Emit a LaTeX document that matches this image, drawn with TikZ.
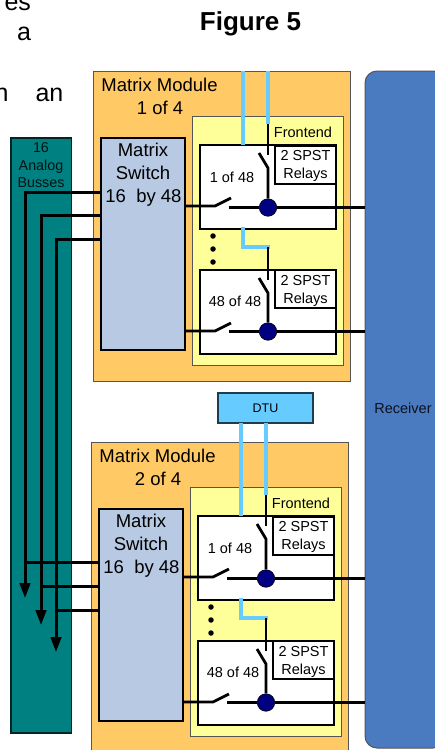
\documentclass[tikz,border=0pt]{standalone}
\usepackage{fontspec}
\setmainfont{Liberation Sans}
\usetikzlibrary{arrows.meta}
\definecolor{orangefill}{HTML}{FFC966}
\definecolor{yellowfill}{HTML}{FFFF99}
\definecolor{switchfill}{HTML}{B8C9E3}
\definecolor{tealfill}{HTML}{008080}
\definecolor{recvfill}{HTML}{4A7ABF}
\definecolor{skyline}{HTML}{66CCFF}
\definecolor{junctionfill}{HTML}{000080}
\definecolor{edgegrey}{HTML}{555555}
\newcommand{\fsz}[1]{\fontsize{#1}{#1}\selectfont}
\tikzset{
  x=1pt,y=-1pt,
  box/.style={rectangle,inner sep=0pt,outer sep=0pt,anchor=north west},
  modulebox/.style={box,draw=edgegrey,line width=1pt,fill=orangefill},
  frontbox/.style={box,draw=edgegrey,line width=1pt,fill=yellowfill},
  whitebox/.style={box,draw=black,line width=2pt,fill=white,minimum width=136pt,minimum height=84pt},
  relaybox/.style={box,draw=black,line width=1.8pt,fill=white,minimum width=61pt,minimum height=38pt},
  matrixbox/.style={box,draw=black,line width=2.2pt,fill=switchfill,minimum width=84pt,minimum height=212pt},
  label/.style={inner sep=0pt,outer sep=0pt,anchor=base,text=black},
  large/.style={label,font=\fsz{18.5}},
  small/.style={label,font=\fsz{14.5}},
  wire/.style={draw=black,line width=2.8pt},
  bus/.style={draw=black,line width=3pt},
  busarrow/.style={bus,-{Triangle[width=10.5pt,length=15pt]}},
  skywire/.style={draw=skyline,line width=3.6pt},
  junction/.style={circle,fill=junctionfill,draw=black,line width=0.6pt,minimum size=17.5pt,inner sep=0pt},
  dot/.style={circle,fill=black,minimum size=5.5pt,inner sep=0pt},
}
\newcommand{\matrixmodule}[4]{% prefix, shift, index text, height of orange
\begin{scope}[shift={#2}]
  \node[modulebox,minimum width=256.5pt,minimum height=#4] (#1-mod) at (93.5,71) {};
  \node[frontbox,minimum width=151pt,minimum height=249pt] (#1-front) at (192,116) {};
  \node[large] at (159.5,91) {Matrix Module};
  \node[large] at (160,114) {#3};
  \node[small] at (303,137) {Frontend};
  \node[matrixbox] (#1-ms) at (101,138) {};
  \node[large] at (143,156) {Matrix};
  \node[large] at (143,179) {Switch};
  \node[large] at (143.5,202) {16\ \ by 48};
  \node[whitebox] (#1-box1) at (200,145) {};
  \node[whitebox] (#1-box2) at (200,270) {};
  \node[relaybox] (#1-rel1) at (275,146) {};
  \node[relaybox] (#1-rel2) at (275,270) {};
  \node[small] at (305.5,160) {2 SPST};
  \node[small] at (305.5,178) {Relays};
  \node[small] at (305.5,285) {2 SPST};
  \node[small] at (305.5,303) {Relays};
  \node[small] at (232,182) {1 of 48};
  \node[small] at (235,306) {48 of 48};
  \node[dot] (#1-d1) at (213,236) {};
  \node[dot] (#1-d2) at (213,249) {};
  \node[dot] (#1-d3) at (213,262) {};
  \node[junction] (#1-j1) at (268,207.5) {};
  \node[junction] (#1-j2) at (268,331.5) {};
  % named points of the wiring
  \coordinate (#1-hs1) at (215,206);
  \coordinate (#1-he1) at (231,198);
  \coordinate (#1-hr1) at (229,207.5);
  \coordinate (#1-vb1) at (259,153);
  \coordinate (#1-vk1) at (268,168);
  \coordinate (#1-vt1) at (268,155);
  \coordinate (#1-sw1) at (268,124);
  \coordinate (#1-hs2) at (215,331);
  \coordinate (#1-he2) at (231,323);
  \coordinate (#1-hr2) at (229,331.5);
  \coordinate (#1-vb2) at (259,278);
  \coordinate (#1-vk2) at (268,293);
  \coordinate (#1-vt2) at (268,280);
  \coordinate (#1-sw2) at (268,247);
  \coordinate (#1-bl2) at (243,247);
  \coordinate (#1-bt) at (243,229);
  % wires
  \draw[skywire,line cap=rect] (#1-box1.south -| #1-bt) -- (#1-bl2) -- (#1-sw2);
  \draw[wire] (#1-sw2) -- (#1-vt2);
  \draw[wire] (#1-vb2) -- (#1-vk2) -- (#1-j2);
  \draw[wire] (#1-sw1) -- (#1-vt1);
  \draw[wire] (#1-vb1) -- (#1-vk1) -- (#1-j1);
  \draw[wire] (#1-ms.east |- #1-hs1) -- (#1-hs1) -- (#1-he1);
  \draw[wire] (#1-hr1) -- (#1-j1);
  \draw[wire] (#1-j1) -- (recv.west |- #1-j1);
  \draw[wire] (#1-ms.east |- #1-hs2) -- (#1-hs2) -- (#1-he2);
  \draw[wire] (#1-hr2) -- (#1-j2);
  \draw[wire] (#1-j2) -- (recv.west |- #1-j2);
\end{scope}}
\begin{document}
\begin{tikzpicture}
\clip (0,0) rectangle (435,750);
\node[label,anchor=base east,font=\fsz{25}] at (31,10) {es};
\node[label,anchor=base west,font=\fsz{25}] at (17,40) {a};
\node[label,anchor=base east,font=\fsz{25}] at (8.5,101.5) {n};
\node[label,anchor=base west,font=\fsz{25}] at (35.5,101.5) {an};
\node[label,font=\fsz{26}\bfseries] at (250.5,30) {Figure 5};
% teal bus block and receiver
\node[box,draw=black!70!tealfill,line width=1.8pt,fill=tealfill,minimum width=60.5pt,minimum height=595pt] (teal) at (11,138) {};
\node[label,font=\fsz{14.3},text=black!85!tealfill] at (41,152) {16};
\node[label,font=\fsz{14.3},text=black!85!tealfill] at (41,170) {Analog};
\node[label,font=\fsz{14.3},text=black!85!tealfill] at (41,187) {Busses};
\draw[fill=recvfill,draw=edgegrey,line width=1pt,rounded corners=12pt] (365,71) rectangle (445,748);
\node[box,minimum width=70pt,minimum height=677pt] (recv) at (365,71) {};
\node[small,text=black!85!recvfill] at (403,413) {Receiver};
% modules
\matrixmodule{mA}{(0,0)}{1 of 4}{310pt}
\matrixmodule{mB}{(-2,371)}{2 of 4}{330pt}
% DTU
\node[box,draw=black!70!skyline,line width=1.2pt,fill=skyline,minimum width=95pt,minimum height=30pt] (dtu) at (218,393) {};
\node[label,font=\fsz{12.5}] at (265.5,412) {DTU};
% blue feeds
\coordinate (topA) at (243,71);
\coordinate (topB) at (268,71);
\draw[skywire] (topA) -- (mA-box1.north -| topA);
\draw[skywire] (topB) -- (mA-sw1);
\draw[skywire] (dtu.south -| mB-bt) -- (mB-box1.north -| mB-bt);
\draw[skywire] (dtu.south -| mB-sw1) -- (mB-sw1);
% analog busses
\coordinate (b1) at (25,192);
\coordinate (b2) at (41,215);
\coordinate (b3) at (56,239);
\coordinate (e1) at (25,598);
\coordinate (e2) at (41,625);
\coordinate (e3) at (56,652);
\draw[busarrow] (mA-ms.west |- b1) -- (b1) -- (e1);
\draw[busarrow] (mA-ms.west |- b2) -- (b2) -- (e2);
\draw[busarrow] (mA-ms.west |- b3) -- (b3) -- (e3);
\coordinate (c1) at (25,562);
\coordinate (c2) at (41,586);
\coordinate (c3) at (56,610);
\draw[bus] (mB-ms.west |- c1) -- (c1);
\draw[bus] (mB-ms.west |- c2) -- (c2);
\draw[bus] (mB-ms.west |- c3) -- (c3);
\end{tikzpicture}
\end{document}
